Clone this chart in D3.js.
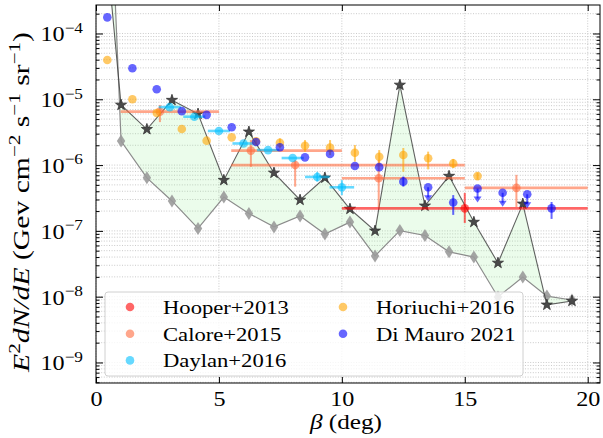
<!DOCTYPE html>
<html>
<head>
<meta charset="utf-8">
<script src="https://cdn.jsdelivr.net/npm/d3@7"></script>
<style>
  body { margin: 0; background: #fff; }
</style>
</head>
<body>
<div id="chart"></div>
<script>
// GCE spectrum vs. latitude: model band + literature data

// model band: upper curve (stars) and lower curve (diamonds)
const modelX = [0.0, 1.02, 2.07, 3.09, 4.15, 5.2, 6.22, 7.24, 8.3, 9.31, 10.33,
  11.35, 12.36, 13.38, 14.36, 15.37, 16.35, 17.36, 18.34, 19.36];
const modelUpper = [0.1, 8.2e-6, 3.5e-6, 9.7e-6, 6.0e-6, 5.9e-7, 3.2e-6, 7.6e-7,
  2.95e-7, 6.4e-7, 2.15e-7, 1.0e-7, 1.65e-5, 2.4e-7, 6.8e-7, 1.36e-7, 3.25e-8,
  2.57e-7, 7.5e-9, 8.6e-9];
const modelLower = [3e3, 2.32e-6, 6.4e-7, 2.85e-7, 1.09e-7, 3.27e-7, 1.84e-7,
  1.15e-7, 1.68e-7, 8.97e-8, 1.36e-7, 4.16e-8, 1.01e-7, 8.5e-8, 4.8e-8, 4.0e-8,
  9.9e-9, 1.99e-8, 1.02e-8, 8.9e-9];

// Hooper+2013
const hooperX = [15];
const hooperY = [2.2e-7];
const hooperXlo = [10];
const hooperXhi = [20];
const hooperYlo = [1.32e-7];
const hooperYhi = [3.77e-7];

// Calore+2015
const caloreX = [2.6, 6.3, 8.1, 11.5, 17.1];
const caloreY = [6.5e-6, 1.66e-6, 1.0e-6, 6.3e-7, 4.5e-7];
const caloreXlo = [1, 5.5, 5.5, 10, 15];
const caloreXhi = [5, 10, 15, 15, 20];
const caloreYlo = [4.5e-6, 9.4e-7, 4.7e-7, 2.3e-7, 2.3e-7];
const caloreYhi = [8.2e-6, 2.4e-6, 1.2e-6, 1.2e-6, 7.1e-7];

// Daylan+2016
const daylanX = [3, 4, 5, 6, 7, 8, 9, 10];
const daylanY = [7.6e-6, 5.44e-6, 3.3e-6, 2.13e-6, 1.69e-6, 1.28e-6, 6.6e-7, 4.6e-7];
const daylanXerr = [0.45, 0.45, 0.45, 0.45, 0.45, 0.45, 0.5, 0.5];
const daylanYlo = [null, null, null, null, null, null, 5.6e-7, 3.5e-7];
const daylanYhi = [null, null, null, null, null, null, 7.9e-7, 5.9e-7];

// Horiuchi+2016
const horiuchiX = [0.46, 1.48, 2.47, 3.49, 4.5, 5.52, 6.51, 7.48, 8.5, 9.52,
  10.53, 11.52, 12.5, 13.51, 14.53, 15.52];
const horiuchiY = [3.95e-5, 1.0e-5, 6.2e-6, 3.54e-6, 2.35e-6, 2.64e-6, 2.3e-6,
  2.19e-6, 1.97e-6, 1.84e-6, 1.54e-6, 1.34e-6, 1.42e-6, 1.27e-6, 1.06e-6, 6.8e-7];
const horiuchiYlo = [null, null, null, null, null, null, 2.0e-6, 1.8e-6, 1.6e-6,
  1.42e-6, 1.13e-6, 1.0e-6, 7.9e-7, 8.6e-7, 9.0e-7, 6.0e-7];
const horiuchiYhi = [null, null, null, null, null, null, 2.6e-6, 2.55e-6, 2.4e-6,
  2.4e-6, 2.02e-6, 1.69e-6, 1.82e-6, 1.6e-6, 1.24e-6, 7.7e-7];

// Di Mauro 2021
const dimauroX = [0.46, 1.48, 2.47, 3.49, 4.5, 5.52, 6.51, 7.48, 8.5, 9.52,
  10.53, 11.52, 12.5, 13.51, 14.53, 15.52, 16.54, 17.54, 18.53];
const dimauroY = [1.76e-4, 2.96e-5, 1.42e-5, 6.6e-6, 5.8e-6, 3.75e-6, 2.24e-6,
  1.87e-6, 1.31e-6, 1.48e-6, 9.7e-7, 9.3e-7, 5.6e-7, 4.6e-7, 2.7e-7, 4.4e-7,
  3.8e-7, 3.6e-7, 2.2e-7];
const dimauroYlo = [null, null, null, null, null, null, null, null, null, null,
  null, null, 4.7e-7, null, 1.75e-7, null, null, null, 1.52e-7];
const dimauroYhi = [null, null, null, null, null, null, null, null, null, null,
  null, null, 6.7e-7, null, 3.5e-7, null, null, null, 2.75e-7];
const dimauroUL = [false, false, false, false, false, false, false, false, false,
  false, false, false, false, true, false, true, true, true, false];

// ticks
const xTicks = [0, 5, 10, 15, 20];
const yExponents = [-9, -8, -7, -6, -5, -4];

// only serif face available offline; widen it a bit to match the wide original
const FONT = 'Liberation Serif';
const WIDEN = 1.15;
function widen(sel, k) {
  sel.each(function () {
    const w = this.getComputedTextLength();
    d3.select(this).attr('textLength', w * k).attr('lengthAdjust', 'spacingAndGlyphs');
  });
}

// set the dimensions and margins of the graph
const margin = { top: 5, right: 3, bottom: 55, left: 96 };
const width = 603 - margin.left - margin.right;
const height = 438 - margin.top - margin.bottom;

// set the ranges
const xScale = d3.scaleLinear().domain([0, 20.5]).range([0, width]);
const yScale = d3.scaleLog()
  .domain([Math.pow(10, -9.312), Math.pow(10, -3.567)])
  .range([height, 0]);

const yMajor = yExponents.map(e => Math.pow(10, e));
const yMinor = [];
for (let e = -10; e <= -3; e++) {
  for (let m = 2; m <= 9; m++) {
    const v = m * Math.pow(10, e);
    if (v >= yScale.domain()[0] && v <= yScale.domain()[1]) yMinor.push(v);
  }
}

const svg = d3
  .select('#chart')
  .append('svg')
  .attr('width', 603)
  .attr('height', 438)
  .attr('font-family', FONT)
  .append('g')
  .attr('transform', `translate(${margin.left},${margin.top})`);

svg.append('clipPath').attr('id', 'clip')
  .append('rect').attr('width', width).attr('height', height);

// grid (dotted)
const grid = svg.append('g').attr('stroke', '#bdbdbd')
  .attr('stroke-width', 0.8).attr('stroke-dasharray', '1,1.6');
grid.selectAll('.hg').data(yMajor.concat(yMinor)).enter().append('line')
  .attr('x1', 0).attr('x2', width)
  .attr('y1', d => yScale(d)).attr('y2', d => yScale(d));
grid.selectAll('.vg').data(xTicks).enter().append('line')
  .attr('y1', 0).attr('y2', height)
  .attr('x1', d => xScale(d)).attr('x2', d => xScale(d));

const plot = svg.append('g').attr('clip-path', 'url(#clip)');
const idx = d3.range(modelX.length);

// band between the two model curves
plot.append('path')
  .datum(idx)
  .attr('fill', '#90ee90')
  .attr('fill-opacity', 0.18)
  .attr('d', d3.area()
    .x(i => xScale(modelX[i]))
    .y0(i => yScale(modelLower[i]))
    .y1(i => yScale(modelUpper[i])));

// lower curve (diamonds)
plot.append('path')
  .datum(idx)
  .attr('fill', 'none')
  .attr('stroke', '#8c8c8c')
  .attr('stroke-width', 1.2)
  .attr('d', d3.line().x(i => xScale(modelX[i])).y(i => yScale(modelLower[i])));
plot.selectAll('.diamond').data(idx).enter().append('path')
  .attr('d', 'M0,-6.5L4.2,0L0,6.5L-4.2,0Z')
  .attr('fill', '#9a9a9a')
  .attr('fill-opacity', 0.9)
  .attr('transform', i => `translate(${xScale(modelX[i])},${yScale(modelLower[i])})`);

// upper curve (stars)
plot.append('path')
  .datum(idx)
  .attr('fill', 'none')
  .attr('stroke', '#3a3a3a')
  .attr('stroke-opacity', 0.8)
  .attr('stroke-width', 1.1)
  .attr('d', d3.line().x(i => xScale(modelX[i])).y(i => yScale(modelUpper[i])));
plot.selectAll('.star').data(idx).enter().append('path')
  .attr('d', d3.symbol().type(d3.symbolStar).size(38))
  .attr('fill', '#4a4a4a')
  .attr('stroke', '#333')
  .attr('stroke-width', 0.8)
  .attr('transform', i => `translate(${xScale(modelX[i])},${yScale(modelUpper[i])})`);

// generic errorbar series
function drawSeries(color, xs, ys, opts) {
  const g = plot.append('g').attr('fill', color).attr('stroke', color)
    .attr('fill-opacity', 0.6).attr('stroke-opacity', 0.6);
  const n = d3.range(xs.length);
  if (opts.xlo) {
    g.selectAll('.xe').data(n).enter().append('line')
      .attr('stroke-width', 2.6)
      .attr('x1', i => xScale(opts.xlo[i])).attr('x2', i => xScale(opts.xhi[i]))
      .attr('y1', i => yScale(ys[i])).attr('y2', i => yScale(ys[i]));
  }
  if (opts.ylo) {
    g.selectAll('.ye').data(n.filter(i => opts.ylo[i] != null)).enter().append('line')
      .attr('stroke-width', 2)
      .attr('x1', i => xScale(xs[i])).attr('x2', i => xScale(xs[i]))
      .attr('y1', i => yScale(opts.ylo[i])).attr('y2', i => yScale(opts.yhi[i]));
  }
  if (opts.ul) {
    const ul = n.filter(i => opts.ul[i]);
    g.selectAll('.ul').data(ul).enter().append('line')
      .attr('stroke-width', 2)
      .attr('x1', i => xScale(xs[i])).attr('x2', i => xScale(xs[i]))
      .attr('y1', i => yScale(ys[i])).attr('y2', i => yScale(ys[i]) + 10);
    g.selectAll('.ulh').data(ul).enter().append('path')
      .attr('stroke', 'none')
      .attr('d', 'M-4,-6L4,-6L0,0Z')
      .attr('transform', i => `translate(${xScale(xs[i])},${yScale(ys[i]) + 14})`);
  }
  g.selectAll('.pt').data(n).enter().append('circle')
    .attr('stroke', 'none')
    .attr('r', 4.3)
    .attr('cx', i => xScale(xs[i]))
    .attr('cy', i => yScale(ys[i]));
}

const colors = {
  hooper: '#ff0000',
  calore: '#ff6a3d',
  daylan: '#00bfff',
  horiuchi: '#ffa500',
  dimauro: '#0000ff',
};

drawSeries(colors.hooper, hooperX, hooperY,
  { xlo: hooperXlo, xhi: hooperXhi, ylo: hooperYlo, yhi: hooperYhi });
drawSeries(colors.calore, caloreX, caloreY,
  { xlo: caloreXlo, xhi: caloreXhi, ylo: caloreYlo, yhi: caloreYhi });
drawSeries(colors.daylan, daylanX, daylanY, {
  xlo: daylanX.map((d, i) => d - daylanXerr[i]),
  xhi: daylanX.map((d, i) => d + daylanXerr[i]),
  ylo: daylanYlo, yhi: daylanYhi,
});
drawSeries(colors.horiuchi, horiuchiX, horiuchiY, { ylo: horiuchiYlo, yhi: horiuchiYhi });
drawSeries(colors.dimauro, dimauroX, dimauroY,
  { ylo: dimauroYlo, yhi: dimauroYhi, ul: dimauroUL });

// axes (ticks inward)
const xBottom = svg.append('g')
  .attr('transform', `translate(0,${height})`)
  .call(d3.axisBottom(xScale).tickValues(xTicks).tickSizeInner(-6).tickSizeOuter(0).tickPadding(8))
  .attr('font-family', FONT);
xBottom.selectAll('text').attr('font-size', 21).attr('font-family', FONT).call(widen, WIDEN);
svg.append('g')
  .call(d3.axisTop(xScale).tickValues(xTicks).tickSizeInner(-6).tickSizeOuter(0).tickFormat(''));

const yLeft = svg.append('g')
  .call(d3.axisLeft(yScale).tickValues(yMajor).tickSizeInner(-7).tickSizeOuter(0).tickFormat(''))
  .attr('font-family', FONT);
svg.append('g')
  .call(d3.axisLeft(yScale).tickValues(yMinor).tickSizeInner(-3.5).tickSizeOuter(0).tickFormat(''));
svg.append('g').attr('transform', `translate(${width},0)`)
  .call(d3.axisRight(yScale).tickValues(yMajor).tickSizeInner(-7).tickSizeOuter(0).tickFormat(''));
svg.append('g').attr('transform', `translate(${width},0)`)
  .call(d3.axisRight(yScale).tickValues(yMinor).tickSizeInner(-3.5).tickSizeOuter(0).tickFormat(''));
svg.selectAll('.domain').remove();

// y tick labels as 10^n
yLeft.selectAll('.tick').each(function (d, i) {
  const t = d3.select(this).append('text')
    .attr('x', -13).attr('y', 0).attr('dy', '0.35em')
    .attr('text-anchor', 'end')
    .attr('font-family', FONT)
    .attr('font-size', 21).attr('fill', '#000');
  t.append('tspan').text('10');
  t.append('tspan').attr('dy', -8.5).attr('font-size', 15)
    .text('\u2212' + Math.abs(yExponents[i]));
  widen(t, WIDEN);
});

// frame
svg.append('rect')
  .attr('width', width).attr('height', height)
  .attr('fill', 'none').attr('stroke', '#000').attr('stroke-width', 1);

// axis labels
const xl = svg.append('text')
  .attr('x', width / 2 - 2).attr('y', height + 46)
  .attr('text-anchor', 'middle').attr('font-size', 21).attr('font-family', FONT);
xl.append('tspan').attr('font-style', 'italic').text('\u03b2');
xl.append('tspan').text(' (deg)');
widen(xl, 1.2);

const yl = svg.append('text')
  .attr('transform', `translate(${-67},${height / 2 + 8}) rotate(-90)`)
  .attr('text-anchor', 'middle').attr('font-size', 22.5).attr('font-family', FONT);
yl.append('tspan').attr('font-style', 'italic').text('E');
yl.append('tspan').attr('dy', -9).attr('font-size', 16).text('2');
yl.append('tspan').attr('dy', 9).attr('font-style', 'italic').text('dN/dE');
yl.append('tspan').text(' (Gev cm');
yl.append('tspan').attr('dy', -9).attr('font-size', 16).text('\u22122');
yl.append('tspan').attr('dy', 9).text(' s');
yl.append('tspan').attr('dy', -9).attr('font-size', 16).text('\u22121');
yl.append('tspan').attr('dy', 9).text(' sr');
yl.append('tspan').attr('dy', -9).attr('font-size', 16).text('\u22121');
yl.append('tspan').attr('dy', 9).text(')');
yl.attr('textLength', 340).attr('lengthAdjust', 'spacingAndGlyphs');

// legend
const legendItems = [
  { name: 'Hooper+2013', color: colors.hooper },
  { name: 'Calore+2015', color: colors.calore },
  { name: 'Daylan+2016', color: colors.daylan },
  { name: 'Horiuchi+2016', color: colors.horiuchi },
  { name: 'Di Mauro 2021', color: colors.dimauro },
];
const legend = svg.append('g').attr('transform', 'translate(9,287)');
legend.append('rect')
  .attr('width', 418).attr('height', 84).attr('rx', 3)
  .attr('fill', '#fff').attr('fill-opacity', 0.8)
  .attr('stroke', '#d0d0d0').attr('stroke-width', 1);
const li = legend.selectAll('.li').data(legendItems).enter().append('g')
  .attr('transform', (d, i) => `translate(${i < 3 ? 0 : 213},${15 + (i % 3) * 26.7})`);
li.append('circle').attr('cx', 25).attr('r', 4.3)
  .attr('fill', d => d.color).attr('fill-opacity', 0.6);
li.append('text').attr('x', 58).attr('dy', '0.35em')
  .attr('font-family', FONT)
  .attr('font-size', 19.5).text(d => d.name)
  .call(widen, 1.16);
</script>
</body>
</html>
